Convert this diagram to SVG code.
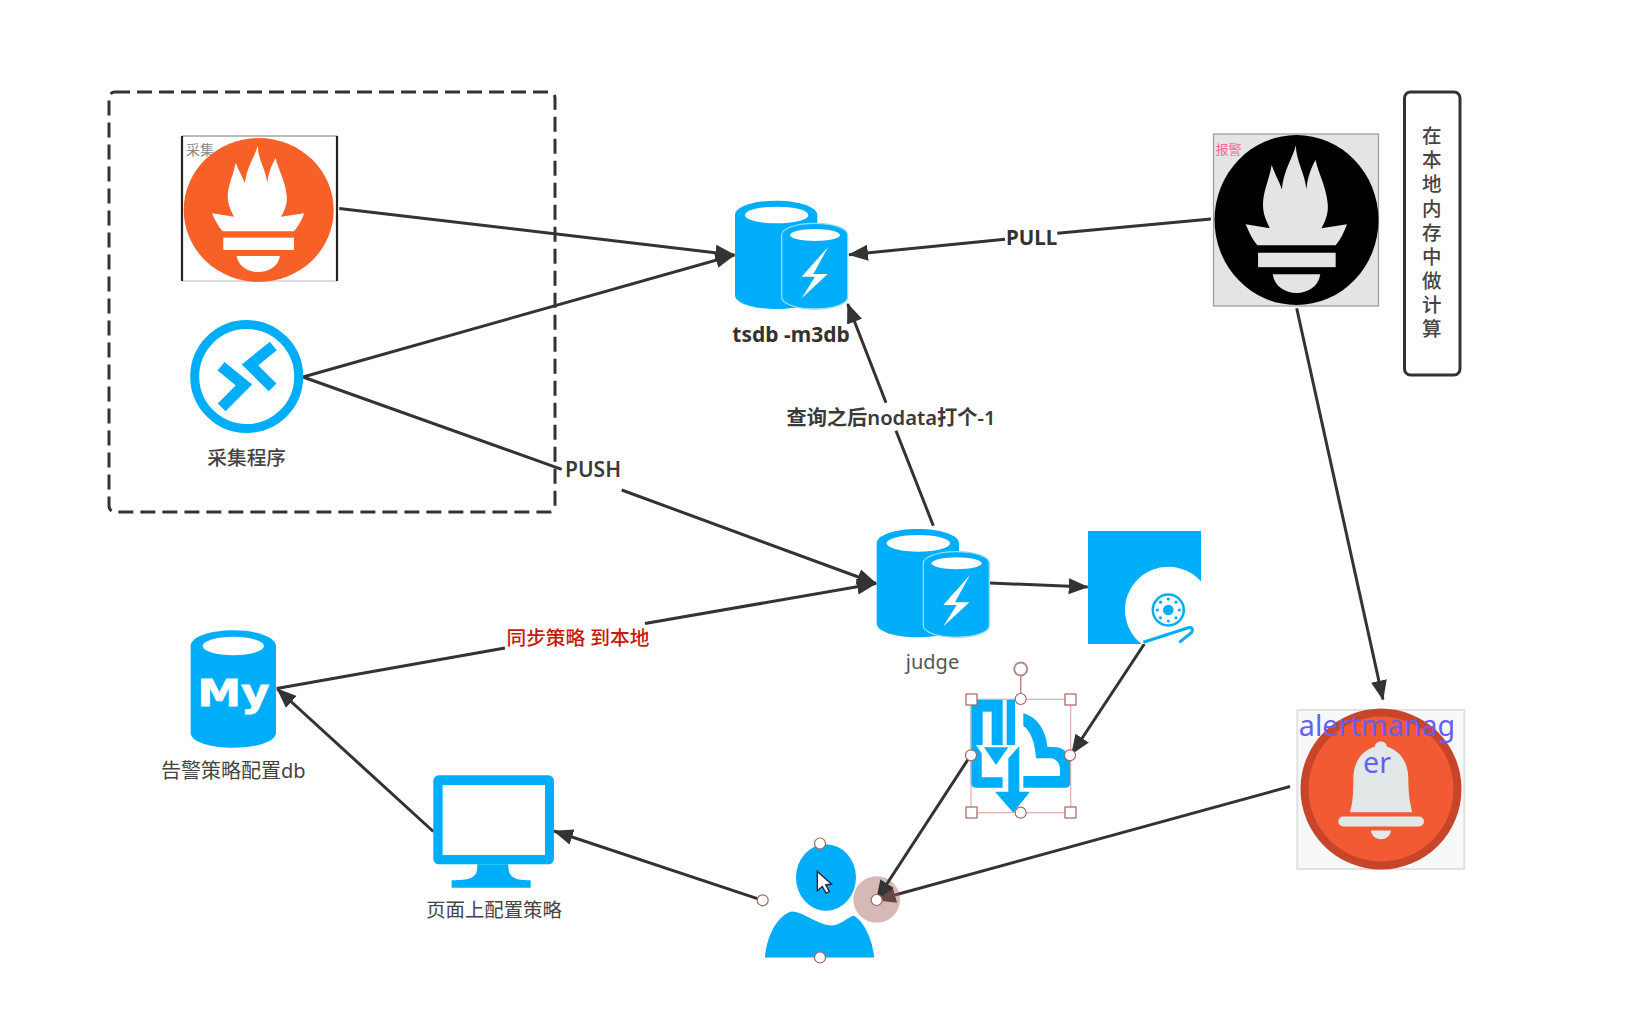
<svg xmlns="http://www.w3.org/2000/svg" width="1642" height="1009" viewBox="0 0 1642 1009">
<style>
text{font-family:"Noto Sans","Noto Sans CJK SC",sans-serif;fill:#444}
.c{text-anchor:middle}
.b{font-weight:700;fill:#333}
.m{font-weight:600;fill:#3a3a3a}
.blue{fill:#00adf9}
.wh{fill:#fff}
.conn{fill:none;stroke:#333;stroke-width:3}
.sel{fill:#fff;stroke:#a5635f;stroke-width:1.2}
</style>
<defs>
<marker id="arrow" markerUnits="userSpaceOnUse" markerWidth="24" markerHeight="20" refX="19" refY="9" orient="auto"><path d="M0 1L20 9L0 17Z" fill="#333"/></marker>
<g id="flame">
<path d="M503 228C495 260 470 290 465 340C458 320 445 300 437 278C430 320 410 350 414 390C416 410 425 425 432 440L366 430C375 450 385 470 398 484L612 484C625 470 635 450 643 430L573 440C585 420 593 400 590 375C585 330 565 300 557 265C545 285 535 310 532 340C528 300 505 270 503 228Z"/>
<rect x="400" y="503" width="212" height="37"/>
<path d="M440 558L570 558C565 590 535 606 505 606C475 606 445 590 440 558Z"/>
</g>
<g id="db">
<path class="blue" d="M105 105C105 80 160 62 228 62C296 62 352 80 352 105L352 345C352 370 296 387 228 387C160 387 105 370 105 345Z"/>
<ellipse class="wh" cx="230" cy="105" rx="95" ry="25"/>
<path class="blue" stroke="#8fdcff" stroke-width="4" d="M245 165C245 145 290 130 344 130C400 130 443 145 443 165L443 352C443 372 400 387 344 387C290 387 245 372 245 352Z"/>
<ellipse class="wh" cx="345" cy="165" rx="75" ry="18"/>
<path class="wh" d="M385 200L305 290L345 290L305 355L383 282L340 282Z"/>
</g>
</defs>
<rect width="1642" height="1009" fill="#fff"/>

<g id="connectors" class="conn">
<path id="prom-tsdb" marker-end="url(#arrow)" d="M339.3 208.500L734.3 255"/>
<path id="collector-tsdb" marker-end="url(#arrow)" d="M303 377L734.3 255"/>
<path id="collector-judge" marker-end="url(#arrow)" d="M303 377L561.7 469.3M621.7 490L876 583.5"/>
<path id="pull" marker-end="url(#arrow)" d="M1211 219L1057.3 233.3M1005 239.3L849 254.7"/>
<path id="query" marker-end="url(#arrow)" d="M933.3 525.7L896 430.7M886 402.7L847.7 304"/>
<path id="judge-disk" marker-end="url(#arrow)" d="M990 583L1087.7 587"/>
<path id="sync" marker-end="url(#arrow)" d="M276.7 688.500L505 648M645 623.500L876 583.5"/>
<path id="page-db" marker-end="url(#arrow)" d="M433.3 831.500L277.3 689"/>
<path id="user-page" marker-end="url(#arrow)" d="M762.7 900.300L554 831"/>
<path id="disk-icon" marker-end="url(#arrow)" d="M1144.3 644L1071.7 754"/>
<path id="alert-user" marker-end="url(#arrow)" d="M1290 786.500L876.7 900"/>
<circle id="user-halo" cx="876.700" cy="899.500" r="23.300" style="fill:#a5635f;fill-opacity:.45;stroke:none"/>
<path id="icon-user" marker-end="url(#arrow)" d="M970.7 755.300L876.7 899.500"/>
<path id="prom2-alert" marker-end="url(#arrow)" d="M1296.7 308.3L1383 699.500"/>
</g>

<g id="labels">
<text class="m" x="565" y="476.500" font-size="21">PUSH</text>
<text class="b" x="1006" y="245" font-size="20.500">PULL</text>
<text class="c m" x="891" y="424.500" font-size="20.200">查询之后nodata打个-1</text>
<text x="506.5" y="644.500" font-size="19.700" style="fill:#c7180b;font-weight:500">同步策略 到本地</text>
</g>

<g id="collect-group"><rect x="109" y="92" width="446" height="420" rx="6" fill="none" stroke="#333" stroke-width="3" stroke-dasharray="15 7"/></g>

<g id="prometheus-collect">
<path d="M182 136H337" stroke="#777" fill="none"/><path d="M182 281H337" stroke="#bbb" fill="none"/>
<path d="M182 136V281M337 136V281" stroke="#222" stroke-width="2.2" fill="none"/>
<ellipse cx="258.7" cy="210" rx="75" ry="72" fill="#f76128"/>
<use href="#flame" fill="#fff" transform="translate(258.3,209) scale(.3333) translate(-505,-417)"/>
<text x="186" y="155" font-size="14" style="fill:#888">采集</text>
</g>

<g id="collector">
<circle cx="246.7" cy="376.500" r="52" fill="#fff" stroke="#00adf9" stroke-width="9"/>
<g transform="translate(90,70) scale(.3333)" fill="none" stroke="#00adf9" stroke-width="33">
<path d="M393 889L462 945L395 1012"/><path d="M550 828L480 885L548 952"/>
</g>
<text class="c" x="246.7" y="464.500" font-size="19.700" style="font-weight:500">采集程序</text>
</g>

<g id="tsdb">
<g transform="translate(700,180) scale(.3333)"><use href="#db"/></g>
<text class="c b" x="791" y="342" font-size="21">tsdb -m3db</text>
</g>

<g id="judge">
<g transform="translate(700,180) scale(.3333) translate(425,985)"><use href="#db"/></g>
<text class="c" x="932.500" y="669" font-size="20" style="fill:#555">judge</text>
</g>

<g id="disk">
<rect class="blue" x="1088" y="531" width="113" height="113"/>
<path class="wh" d="M1201 581.600A43.300 43.300 0 1 0 1141.500 644H1201.500V581.600Z"/>
<circle cx="1168.3" cy="610" r="15.5" fill="none" stroke="#00adf9" stroke-width="2.5"/>
<circle class="blue" cx="1168.3" cy="610" r="5.3"/>
<g class="blue">
<circle cx="1179.3" cy="610" r="1.6"/><circle cx="1176" cy="617.8" r="1.6"/><circle cx="1168.3" cy="621" r="1.6"/><circle cx="1160.5" cy="617.8" r="1.6"/><circle cx="1157.3" cy="610" r="1.6"/><circle cx="1160.5" cy="602.2" r="1.6"/><circle cx="1168.3" cy="599" r="1.6"/><circle cx="1176" cy="602.2" r="1.6"/>
</g>
<path d="M1143.3 642.3L1188.3 627.7Q1194 626.7 1191.7 632.3L1179.3 642.3" fill="none" stroke="#00adf9" stroke-width="3"/>
</g>

<g id="prometheus-alert">
<rect x="1213.500" y="134" width="165" height="172" fill="#e4e4e4" stroke="#999" stroke-width="1.2"/>
<ellipse cx="1296.500" cy="220" rx="82" ry="85" fill="#000"/>
<use href="#flame" fill="#e4e4e4" transform="translate(1296.500,219.200) scale(.366,.39) translate(-505,-417)"/>
<text x="1215.5" y="154" font-size="13" style="fill:#f06b9a">报警</text>
</g>

<g id="memory-note">
<rect x="1404.500" y="92" width="55.500" height="283" rx="6" fill="#fff" stroke="#333" stroke-width="3"/>
<text class="c" font-size="19.5" style="font-weight:500"><tspan x="1431.7" y="143">在</tspan><tspan x="1431.7" y="167">本</tspan><tspan x="1431.7" y="191">地</tspan><tspan x="1431.7" y="215.500">内</tspan><tspan x="1431.7" y="239.500">存</tspan><tspan x="1431.7" y="263.500">中</tspan><tspan x="1431.700" y="287.500">做</tspan><tspan x="1431.700" y="311.500">计</tspan><tspan x="1431.700" y="335.500">算</tspan></text>
</g>

<g id="alertmanager">
<rect x="1297.300" y="710" width="167" height="159" fill="#f7f8f8" stroke="#e2e2e2" stroke-width="2"/>
<circle cx="1381" cy="789" r="80.500" fill="#c8452a"/>
<circle cx="1381" cy="789" r="72.500" fill="#f15a33"/>
<g transform="translate(1280,690.500) scale(.3333)" fill="#e2e7e8">
<path d="M285 168C285 148 320 148 320 168C360 180 385 215 385 265C385 310 390 340 397 365L210 365C218 340 220 310 220 265C220 215 245 180 285 168Z"/>
<rect x="175" y="378" width="257" height="30" rx="15"/>
<path d="M273 420L333 420C330 455 276 455 273 420Z"/>
</g>
<text class="c" x="1377" y="736" font-size="28.700" style="fill:#6560f2">alertmanag</text>
<text class="c" x="1377" y="773" font-size="28.700" style="fill:#6560f2">er</text>
</g>

<g id="policy-db">
<g transform="translate(150,621) scale(.3333)">
<path class="blue" d="M122 75C122 48 180 28 250 28C320 28 378 48 378 75L378 335C378 362 320 380 250 380C180 380 122 362 122 335Z"/>
<ellipse class="wh" cx="250" cy="75" rx="92" ry="28"/>
</g>
<text x="197.500" y="706" font-size="37" font-weight="700" textLength="72" lengthAdjust="spacingAndGlyphs" stroke="#fff" stroke-width=".8" style="fill:#fff;font-family:'DejaVu Sans',sans-serif">My</text>
<text class="c" x="233.300" y="777.500" font-size="20">告警策略配置db</text>
</g>

<g id="page">
<g transform="translate(150,621) scale(.3333)">
<rect class="blue" x="850" y="463" width="362" height="267" rx="16"/>
<rect class="wh" x="878" y="492" width="307" height="210"/>
<path class="blue" d="M982 730C982 765 975 778 905 778L905 800L1142 800L1142 778C1085 778 1075 765 1075 730Z"/>
</g>
<text class="c" x="494" y="917" font-size="19.400">页面上配置策略</text>
</g>

<g id="selected-icon">
<g transform="translate(960,690) scale(.3333)">
<path class="blue" d="M32 45Q32 28 50 28L165 28L165 293L50 293Q32 293 32 275Z"/>
<rect class="wh" x="68" y="65" width="27" height="105"/>
<rect class="wh" x="128" y="28" width="12" height="142"/>
<path class="wh" d="M48 165L192 165L192 300L128 300L128 262L65 262L65 190Z"/>
<path class="blue" d="M72 172L145 172L108 225Z"/>
<path class="blue" d="M145 205L178 168L178 305L210 305L160 368L105 305L145 305Z"/>
<path class="blue" d="M190 70C230 80 258 120 262 170L290 172C315 175 332 195 332 225L332 275Q332 293 315 293L190 293L190 258L300 258L300 235C298 215 285 205 270 205L228 205C225 155 210 120 190 108Z"/>
</g>
<rect x="971" y="699.300" width="99.700" height="113.400" fill="none" stroke="#d8b0ae" stroke-width="1.200"/>
<path d="M1020.700 675.500V696" stroke="#b98a87" stroke-width="1.500" fill="none"/>
<circle cx="1020.700" cy="669" r="6.500" fill="#fff" stroke="#b98a87" stroke-width="2"/>
<g class="sel">
<rect x="966" y="694" width="11" height="11"/><rect x="1065" y="694" width="11" height="11"/><rect x="966" y="807" width="11" height="11"/><rect x="1065" y="807" width="11" height="11"/>
<circle cx="1020.700" cy="699" r="5.500"/><circle cx="971" cy="755.300" r="5.500"/><circle cx="1070" cy="755.300" r="5.500"/><circle cx="1020.700" cy="812.700" r="5.500"/>
</g>
</g>

<g id="user">
<g transform="translate(740,651.500) scale(.3333)">
<ellipse class="blue" cx="258" cy="678" rx="90" ry="100"/>
<path class="blue" d="M75 918C80 850 115 790 155 780C190 780 230 820 275 822C300 822 320 800 340 792C375 810 398 870 403 918Z"/>
<path d="M232 660L232 718L247 705L258 725L268 720L257 700L275 698Z" fill="#fff" stroke="#223" stroke-width="4"/>
</g>
<g class="sel">
<circle cx="820" cy="843.500" r="5.500"/><circle cx="820" cy="957.500" r="5.500"/><circle cx="762.700" cy="900.300" r="5.500"/><circle cx="876.700" cy="900" r="5.500"/>
</g>
</g>
</svg>
